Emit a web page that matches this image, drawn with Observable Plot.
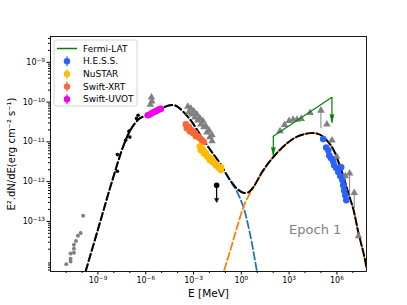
<!DOCTYPE html>
<html><head><meta charset="utf-8">
<script src="https://cdn.jsdelivr.net/npm/d3@7"></script>
<script src="https://cdn.jsdelivr.net/npm/@observablehq/plot@0.6"></script>
<style>body{margin:0;background:#fff} svg{display:block}</style>
</head><body><div id="chart"></div><script>
// ---- data (log10 E [MeV], log10 E^2 dN/dE [erg cm^-2 s^-1]) ----
const totalLogE = [-9.77,-8.89,-8.16,-7.43,-7.00,-6.69,-6.38,-5.95,-5.54,-5.01,-4.49,-4.11,-3.86,-3.23,-2.49,-1.86,-1.34,-0.82,-0.29,0.13,0.44,0.75,1.38,2.01,2.86,3.50,4.32,4.83,5.16,5.69,6.21,6.73,7.05,7.36,7.68,7.91];
const totalLogF = [-14.25,-13.05,-12.05,-11.13,-10.73,-10.54,-10.41,-10.33,-10.26,-10.16,-10.08,-10.09,-10.16,-10.43,-10.88,-11.25,-11.54,-11.89,-12.17,-12.28,-12.27,-12.14,-11.71,-11.38,-11.04,-10.87,-10.78,-10.80,-10.88,-11.13,-11.63,-12.30,-12.72,-13.30,-13.81,-14.25];
const syncLogE = [-9.77,-8.89,-8.16,-7.43,-7.00,-6.69,-6.38,-5.95,-5.54,-5.01,-4.49,-4.11,-3.86,-3.23,-2.49,-1.86,-1.34,-0.82,-0.29,0.13,0.55,0.97,1.08];
const syncLogF = [-14.25,-13.05,-12.05,-11.13,-10.73,-10.54,-10.41,-10.33,-10.26,-10.16,-10.08,-10.09,-10.16,-10.43,-10.88,-11.25,-11.54,-11.90,-12.24,-12.64,-13.32,-14.23,-14.48];
const icLogE = [-1.25,-1.13,-0.71,-0.29,0.13,0.44,0.75,1.38,2.01,2.86,3.50,4.32,4.83,5.16,5.69,6.21,6.73,7.05,7.36,7.68,7.91];
const icLogF = [-14.48,-14.30,-13.75,-13.18,-12.64,-12.37,-12.15,-11.73,-11.38,-11.04,-10.87,-10.78,-10.80,-10.88,-11.13,-11.63,-12.30,-12.72,-13.30,-13.81,-14.25];

const radioLogE = [-10.99,-10.72,-10.72,-10.72,-10.51,-10.51,-10.51,-10.38,-10.26,-10.09,-9.93];
const radioLogF = [-14.08,-14.01,-13.94,-13.81,-13.79,-13.69,-13.59,-13.49,-13.36,-13.29,-12.86];
const optLogE = [-7.78,-7.78,-7.26,-7.05,-7.00,-6.58,-6.48];
const optLogF = [-11.32,-11.74,-10.96,-10.73,-10.88,-10.41,-10.33];
const ulLogE = [-1.55], ulLogF = [-12.09], ulEndLogF = [-12.51];

const archLogE = [-5.64,-5.62,-5.71,
  -3.36,-3.29,-3.17,-3.11,-2.98,-2.91,-2.79,-2.73,-2.60,-2.54,-2.41,-2.35,-2.22,-2.16,-2.03,-1.97,-1.84,-1.84,
  2.43,2.72,3.00,3.25,3.50,3.76,4.32,5.00,5.37,5.69,5.99,6.21,6.53,6.80,7.09,7.36];
const archLogF = [-9.88,-9.98,-10.06,
  -10.11,-10.26,-10.16,-10.31,-10.23,-10.38,-10.31,-10.46,-10.41,-10.56,-10.48,-10.63,-10.61,-10.76,-10.71,-10.88,-10.83,-10.98,
  -10.73,-10.57,-10.47,-10.44,-10.44,-10.42,-10.27,-10.21,-10.56,-10.96,-11.37,-11.64,-11.86,-11.79,-12.28,-13.37];
const archErrLogE = [5.00, 6.80, 7.09];
const archErrLo = [-10.66, -12.29, -12.67];
const archErrHi = [-10.21, -11.79, -12.28];

const fermiLogE = [2.01, 5.69];
const fermiLogF = [-10.86, -9.88];
const fermiULEndLogF = [-11.34, -10.51];

const hessLogE = [5.14,5.33,5.46,5.52,5.64,5.77,5.83,5.96,6.09,6.21,6.27,6.34,6.40,6.46,6.53,6.59];
const hessLogF = [-10.93,-11.14,-11.21,-11.34,-11.41,-11.49,-11.59,-11.66,-11.76,-11.86,-11.64,-11.96,-12.09,-12.22,-12.34,-12.47];
const nuLogE = [-2.60,-2.54,-2.41,-2.35,-2.22,-2.16,-2.03,-1.97,-1.84,-1.78,-1.66,-1.59,-1.47,-1.40,-1.28,-1.28];
const nuLogF = [-11.11,-11.21,-11.19,-11.29,-11.29,-11.36,-11.39,-11.46,-11.44,-11.51,-11.54,-11.59,-11.61,-11.66,-11.64,-11.71];
const xrtLogE = [-3.48,-3.42,-3.29,-3.23,-3.11,-3.04,-2.91,-2.85,-2.73,-2.60,-2.47,-2.35];
const xrtLogF = [-10.56,-10.66,-10.63,-10.73,-10.71,-10.78,-10.78,-10.86,-10.86,-10.91,-10.96,-11.01];
const uvotLogE = [-5.87,-5.75,-5.62,-5.49,-5.37,-5.24,-5.12,-5.05];
const uvotLogF = [-10.33,-10.31,-10.28,-10.25,-10.23,-10.20,-10.18,-10.17];

const xTickExp = [-9,-6,-3,0,3,6];
const yTickExp = [-13,-12,-11,-10,-9];
const xDomainExp = [-11.98, 7.86];
const yDomainExp = [-14.26, -8.35];
const legendLabels = ["Fermi-LAT","H.E.S.S.","NuSTAR","Swift-XRT","Swift-UVOT"];
const annotation = {logE: 4.64, logF: -13.22, text: "Epoch 1"};
const xLabel = "E [MeV]";
const yLabel = "E².dN/dE(erg cm⁻² s⁻¹)";

// ---- styles ----
const C = {fermi:"green", hess:"#2962ff", nustar:"#ffbb00", xrt:"#ff6633", uvot:"#ee00ee", gray:"#808080",
  sync:"#1f77b4", ic:"#ff7f0e"};

const rows = (es, fs) => es.map((e,i)=>({E: 10**e, F: 10**fs[i]}));
const total = rows(totalLogE,totalLogF), sync = rows(syncLogE,syncLogF), ic = rows(icLogE,icLogF);
const radio = rows(radioLogE,radioLogF), opt = rows(optLogE,optLogF), arch = rows(archLogE,archLogF);
const hess = rows(hessLogE,hessLogF), nu = rows(nuLogE,nuLogF), xrt = rows(xrtLogE,xrtLogF), uvot = rows(uvotLogE,uvotLogF);
const fermi = rows(fermiLogE,fermiLogF);
const fermiUL = fermiLogE.map((e,i)=>({E:10**e, F1:10**fermiLogF[i], F2:10**fermiULEndLogF[i]}));
const ul = ulLogE.map((e,i)=>({E:10**e, F1:10**ulLogF[i], F2:10**ulEndLogF[i]}));
const archErr = archErrLogE.map((e,i)=>({E:10**e, F1:10**archErrHi[i], F2:10**archErrLo[i]}));

const xTicks = xTickExp.map(e=>10**e), yTicks = yTickExp.map(e=>10**e);
const xMinor = d3.range(Math.ceil(xDomainExp[0]), Math.floor(xDomainExp[1])+1).filter(e=>!xTickExp.includes(e)).map(e=>10**e);
const yMinor = [];
for (let e = Math.floor(yDomainExp[0]); e <= Math.ceil(yDomainExp[1]); e++)
  for (let k = 2; k <= 9; k++) { const v = k*10**e; if (Math.log10(v) > yDomainExp[0] && Math.log10(v) < yDomainExp[1]) yMinor.push(v); }
const fmt = d => "10^" + Math.round(Math.log10(d));
const dash = "7.4,3.2";

const svg = Plot.plot({
  width: 407, height: 305,
  marginLeft: 50, marginRight: 41, marginTop: 36, marginBottom: 34,
  style: {fontFamily: "DejaVu Sans", fontSize: "8px", background: "white", color: "black"},
  x: {type: "log", domain: xDomainExp.map(e=>10**e), label: null},
  y: {type: "log", domain: yDomainExp.map(e=>10**e), label: null},
  marks: [
    Plot.axisY(yTicks, {tickSize: 3.5, tickPadding: 2, tickFormat: fmt}),
    Plot.axisY(yMinor, {tickSize: 2, tickFormat: () => ""}),
    Plot.axisX(xTicks, {tickSize: 3.5, tickPadding: 2, tickFormat: fmt}),
    Plot.axisX(xMinor, {tickSize: 2, tickFormat: () => ""}),
    Plot.line(sync, {x:"E", y:"F", stroke:C.sync, strokeWidth:1.8, strokeDasharray:dash, curve:"catmull-rom", clip:true}),
    Plot.line(ic, {x:"E", y:"F", stroke:C.ic, strokeWidth:1.8, strokeDasharray:dash, curve:"catmull-rom", clip:true}),
    Plot.line(total, {x:"E", y:"F", stroke:"black", strokeWidth:2, strokeDasharray:dash, curve:"catmull-rom", clip:true}),
    Plot.dot(radio, {x:"E", y:"F", r:2, fill:C.gray}),
    Plot.link(archErr, {x1:"E", x2:"E", y1:"F1", y2:"F2", stroke:C.gray, strokeWidth:1}),
    Plot.dot(arch, {x:"E", y:"F", r:2.8, symbol:"triangle", fill:C.gray}),
    Plot.dot(opt, {x:"E", y:"F", r:1.8, fill:"black"}),
    Plot.arrow(ul, {x1:"E", x2:"E", y1:"F1", y2:"F2", stroke:"black", strokeWidth:1.2, headLength:5, headAngle:50}),
    Plot.dot(ul, {x:"E", y:"F1", r:2.8, fill:"black"}),
    Plot.line(fermi, {x:"E", y:"F", stroke:C.fermi, strokeWidth:1.2}),
    Plot.link(fermiUL, {x1:"E", x2:"E", y1:"F1", y2:"F2", stroke:C.fermi, strokeWidth:1.2}),
    Plot.vector(fermiUL, {x:"E", y:"F2", length:8, rotate:180, shape:"spike", anchor:"end", r:2, fill:C.fermi, stroke:C.fermi, strokeWidth:0.5}),
    Plot.dot(uvot, {x:"E", y:"F", r:3.3, fill:C.uvot}),
    Plot.dot(xrt, {x:"E", y:"F", r:3.3, fill:C.xrt}),
    Plot.dot(nu, {x:"E", y:"F", r:3.3, fill:C.nustar}),
    Plot.dot(hess, {x:"E", y:"F", r:3.3, fill:C.hess}),
    Plot.text([annotation], {x: d=>10**d.logE, y: d=>10**d.logF, text:"text", fill:C.gray, fontSize:13}),
    Plot.text([xLabel], {frameAnchor:"bottom", dy:22, lineAnchor:"middle", textAnchor:"middle", text:d=>d, fontSize:10.5}),
    Plot.text([yLabel], {frameAnchor:"left", dx:-39, rotate:-90, textAnchor:"middle", lineAnchor:"middle", text:d=>d, fontSize:10}),
    Plot.frame({stroke:"black", strokeWidth:0.9})
  ]
});

// superscript tick labels
const NS = "http://www.w3.org/2000/svg";
d3.select(svg).selectAll("text").each(function(){
  const m = /^10\^(-?\d+)$/.exec(this.textContent);
  if (!m) return;
  this.textContent = "";
  const a = document.createElementNS(NS, "tspan"); a.textContent = "10"; this.appendChild(a);
  const b = document.createElementNS(NS, "tspan"); b.setAttribute("dy", "-0.45em"); b.setAttribute("font-size", "0.72em");
  b.textContent = m[1].replace("-", "\u2212"); this.appendChild(b);
});

// legend
const lg = d3.select(svg).append("g").attr("font-family","DejaVu Sans").attr("font-size", 9).attr("text-anchor","start");
lg.append("rect").attr("x",54).attr("y",40).attr("width",83).attr("height",66).attr("rx",2)
  .attr("fill","white").attr("fill-opacity",0.8).attr("stroke","#cccccc").attr("stroke-width",0.8);
const lgColors = [C.fermi, C.hess, C.nustar, C.xrt, C.uvot];
legendLabels.forEach((lab,i)=>{
  const y = 48.5 + i*12.7;
  if (i===0) lg.append("line").attr("x1",57).attr("x2",77).attr("y1",y).attr("y2",y).attr("stroke",lgColors[i]).attr("stroke-width",1.5);
  else {
    lg.append("line").attr("x1",67).attr("x2",67).attr("y1",y-5).attr("y2",y+5).attr("stroke",lgColors[i]).attr("stroke-width",1.2);
    lg.append("circle").attr("cx",67).attr("cy",y).attr("r",3.2).attr("fill",lgColors[i]);
  }
  lg.append("text").attr("x",83).attr("y",y).attr("dy","0.35em").text(lab);
});

document.getElementById("chart").appendChild(svg);
</script></body></html>
